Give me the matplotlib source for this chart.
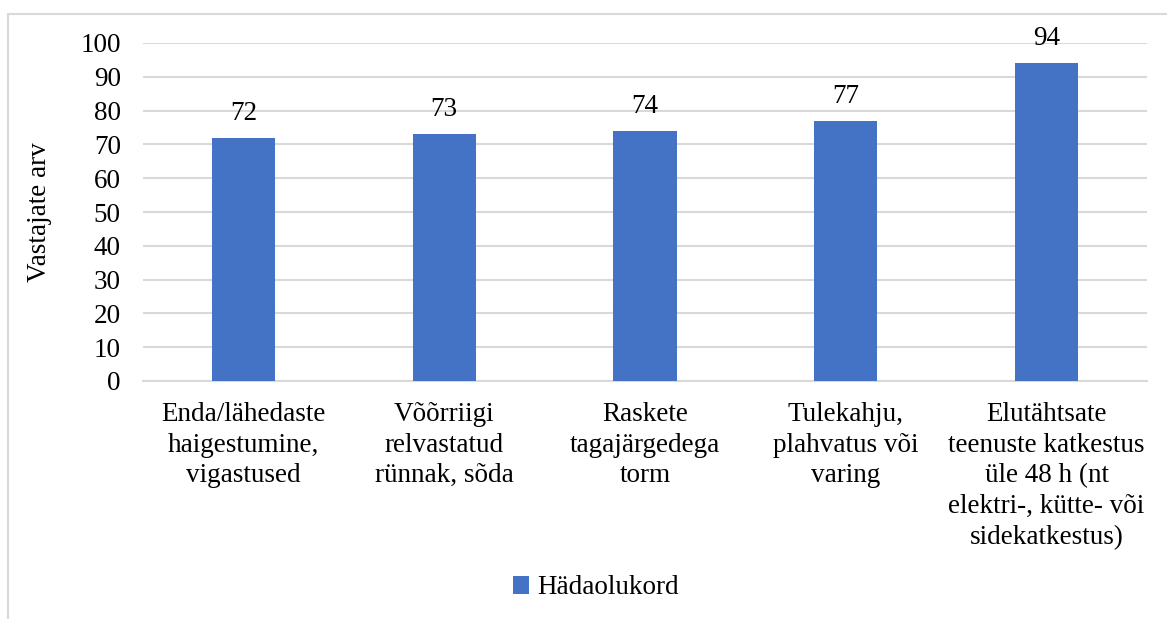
import matplotlib
matplotlib.use("Agg")
import matplotlib.pyplot as plt
from matplotlib import font_manager
from matplotlib.font_manager import FontProperties
from matplotlib.patches import Rectangle

categories = [
    "Enda/lähedaste\nhaigestumine,\nvigastused",
    "Võõrriigi\nrelvastatud\nrünnak, sõda",
    "Raskete\ntagajärgedega\ntorm",
    "Tulekahju,\nplahvatus või\nvaring",
    "Elutähtsate\nteenuste katkestus\nüle 48 h (nt\nelektri-, kütte- või\nsidekatkestus)",
]
values = [72, 73, 74, 77, 94]
series_name = "Hädaolukord"
yticks = list(range(0, 101, 10))

# pick a regular Times-like serif file
serif_path = None
for want in ("Liberation Serif", "TeX Gyre Termes", "FreeSerif", "DejaVu Serif"):
    for f in font_manager.fontManager.ttflist:
        if f.name == want and f.style == "normal" and f.weight in (400, "normal", "regular"):
            serif_path = f.fname
            break
    if serif_path:
        break
fp = FontProperties(fname=serif_path, size=19.5)

fig = plt.figure(figsize=(11.67, 6.19), dpi=100)
W, H = 1167, 619
ax = fig.add_axes([143 / W, 1 - 381 / H, (1147 - 143) / W, (381 - 43) / H])

# outer chart border (left and top visible)
fig.patches.append(Rectangle((8 / W, -0.1), 1.2, 1 - 14 / H + 0.1,
                             transform=fig.transFigure, fill=False,
                             edgecolor="#d9d9d9", linewidth=1.5))

x = range(len(categories))
bars = ax.bar(x, values, width=0.315, color="#4472C4", label=series_name, zorder=3)
for b, v in zip(bars, values):
    ax.text(b.get_x() + b.get_width() / 2, v + 3.5, str(v),
            ha="center", va="bottom", fontproperties=fp)

ax.set_xlim(-0.5, len(categories) - 0.5)
ax.set_ylim(0, 100)
ax.set_yticks(yticks)
ax.set_yticklabels([str(t) for t in yticks], fontproperties=fp)
ax.yaxis.grid(True, color="#d9d9d9", linewidth=1.5, zorder=0)
ax.set_axisbelow(True)
for s in ["top", "right", "left"]:
    ax.spines[s].set_visible(False)
ax.spines["bottom"].set_color("#d9d9d9")
ax.spines["bottom"].set_linewidth(1.5)
ax.tick_params(axis="both", length=0)
ax.tick_params(axis="y", pad=16)
ax.tick_params(axis="x", pad=15)
ax.set_xticks(list(x))
ax.set_xticklabels(categories, fontproperties=fp, linespacing=1.3)
ax.set_ylabel("Vastajate arv", fontproperties=fp, labelpad=20)

fig.legend(handles=[bars], labels=[series_name], loc="center",
           bbox_to_anchor=(596 / W, 1 - 588 / H), frameon=False,
           handlelength=0.6, handleheight=0.6, handletextpad=0.3, prop=fp)

fig.savefig("out.png", dpi=100)
